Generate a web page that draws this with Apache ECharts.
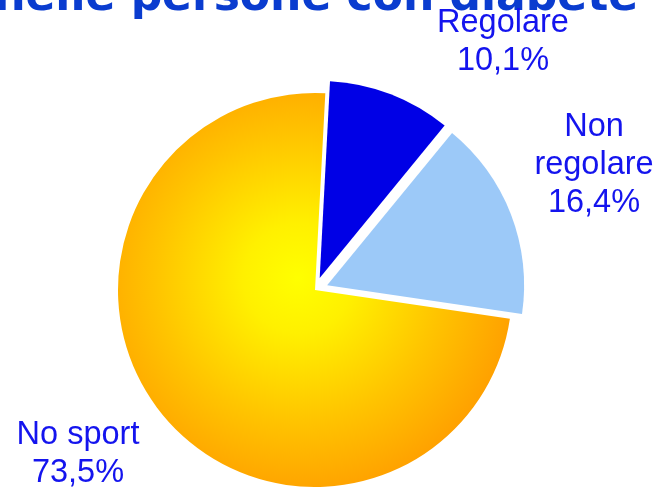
<!DOCTYPE html>
<html>
<head>
<meta charset="utf-8">
<style>
  html, body { margin: 0; padding: 0; background: #ffffff; }
  #chart { width: 658px; height: 487px; }
</style>
<script src="https://cdn.jsdelivr.net/npm/echarts@6/dist/echarts.min.js"></script>
</head>
<body>
<div id="chart"></div>
<script>
// Sport practice among people with diabetes (percent)
const categories = ['Regolare', 'Non\nregolare', 'No sport'];
const values = [10.1, 16.4, 73.5];
const titleText = 'nelle persone con diabete';

const sliceColors = [
  '#0000e6',
  '#9cc9f8',
  {
    type: 'radial', x: 0.46, y: 0.47, r: 0.56,
    colorStops: [
      { offset: 0, color: '#ffff00' },
      { offset: 0.25, color: '#fff000' },
      { offset: 0.65, color: '#ffc400' },
      { offset: 1, color: '#ffa000' }
    ]
  }
];
const explodedSlices = [true, true, false];
// label anchor points (centre of each text block)
const labelAnchors = [[503, 42], [594, 165], [78, 454]];

const fmtPercent = v => v.toFixed(1).replace('.', ',') + '%';

const chart = echarts.init(document.getElementById('chart'), null, { renderer: 'canvas' });

const pieData = categories.map((name, i) => ({
  name: name,
  value: values[i],
  selected: explodedSlices[i],
  itemStyle: { color: sliceColors[i] }
}));

// slice captions: name over percentage
const captions = categories.map((name, i) => ({
  type: 'text',
  x: labelAnchors[i][0],
  y: labelAnchors[i][1],
  silent: true,
  style: {
    text: name + '\n' + fmtPercent(values[i]),
    font: '32.5px "Liberation Sans", Arial, sans-serif',
    lineHeight: 38,
    fill: '#1414ee',
    align: 'center',
    verticalAlign: 'middle'
  }
}));

chart.setOption({
  animation: false,
  backgroundColor: '#ffffff',
  graphic: [{
    type: 'text',
    right: 20,
    top: -23,
    style: {
      text: titleText,
      font: 'bold 44px "DejaVu Sans"',
      fill: '#0a3ccf'
    }
  }].concat(captions),
  series: [{
    type: 'pie',
    center: [315, 290],
    radius: 197,
    startAngle: 87,
    clockwise: true,
    selectedMode: 'multiple',
    selectedOffset: 13,
    emphasis: { disabled: true },
    label: { show: false },
    labelLine: { show: false },
    data: pieData
  }]
});
</script>
</body>
</html>
